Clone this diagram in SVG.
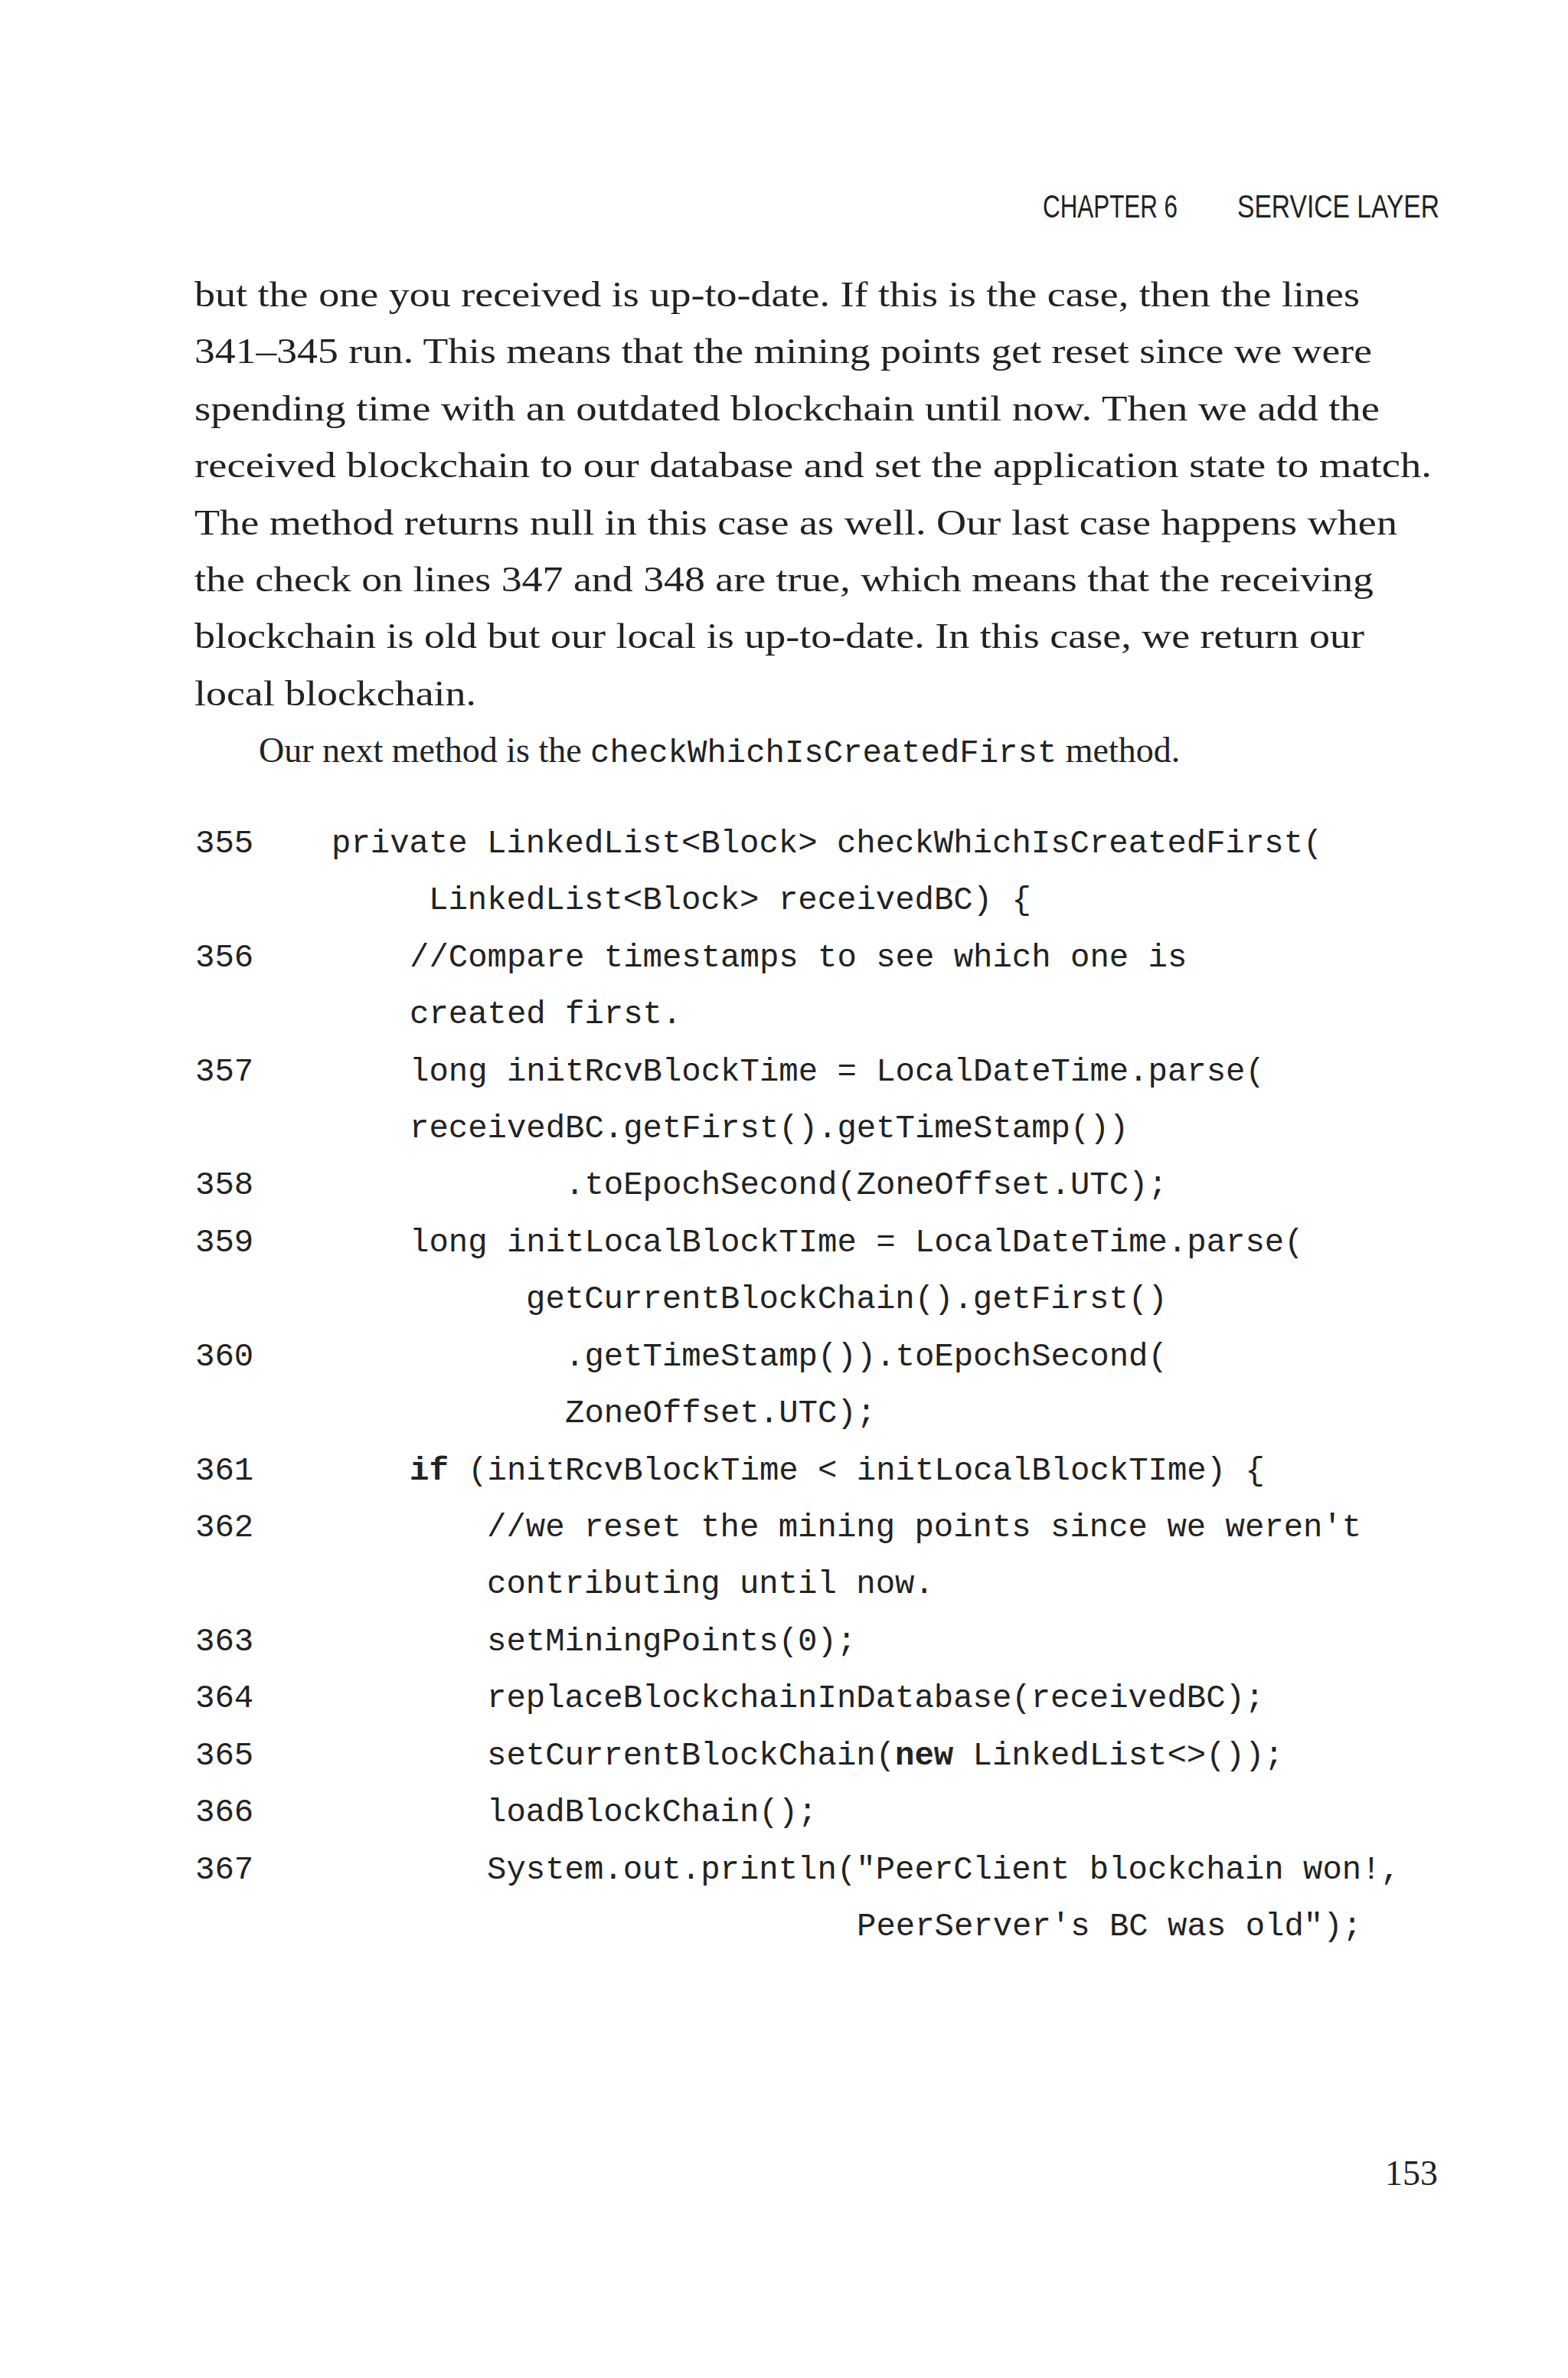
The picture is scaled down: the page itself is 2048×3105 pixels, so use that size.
<svg xmlns="http://www.w3.org/2000/svg" width="2048" height="3105" viewBox="0 0 2048 3105">
<style>
.h{font-family:"Liberation Sans Narrow","Liberation Sans",sans-serif;font-size:42px;fill:#222}
.b{font-family:"Liberation Serif",serif;font-size:46px;fill:#222}
.c{font-family:"Liberation Mono",monospace;font-size:42.3px;fill:#222}
.k{font-weight:bold}
</style>
<rect width="2048" height="3105" fill="#fff"/>
<g id="header">
<text class="h" x="1362" y="284" textLength="176" lengthAdjust="spacingAndGlyphs">CHAPTER 6</text>
<text class="h" x="1880" y="284" text-anchor="end" textLength="264" lengthAdjust="spacingAndGlyphs">SERVICE LAYER</text>
</g>
<g id="body">
<text class="b" x="254" y="400" textLength="1522" lengthAdjust="spacingAndGlyphs">but the one you received is up-to-date. If this is the case, then the lines</text>
<text class="b" x="254" y="474" textLength="1538" lengthAdjust="spacingAndGlyphs">341–345 run. This means that the mining points get reset since we were</text>
<text class="b" x="254" y="549" textLength="1548" lengthAdjust="spacingAndGlyphs">spending time with an outdated blockchain until now. Then we add the</text>
<text class="b" x="254" y="623" textLength="1616" lengthAdjust="spacingAndGlyphs">received blockchain to our database and set the application state to match.</text>
<text class="b" x="254" y="698" textLength="1571" lengthAdjust="spacingAndGlyphs">The method returns null in this case as well. Our last case happens when</text>
<text class="b" x="254" y="772" textLength="1540" lengthAdjust="spacingAndGlyphs">the check on lines 347 and 348 are true, which means that the receiving</text>
<text class="b" x="254" y="846" textLength="1528" lengthAdjust="spacingAndGlyphs">blockchain is old but our local is up-to-date. In this case, we return our</text>
<text class="b" x="254" y="921" textLength="368" lengthAdjust="spacingAndGlyphs">local blockchain.</text>
<text class="b" x="338" y="995">Our next method is the <tspan class="c">checkWhichIsCreatedFirst</tspan> method.</text>
</g>
<g id="code" class="c">
<text x="255" y="1113">355</text><text x="433" y="1113">private LinkedList&lt;Block&gt; checkWhichIsCreatedFirst(</text>
<text x="560" y="1187">LinkedList&lt;Block&gt; receivedBC) {</text>
<text x="255" y="1262">356</text><text x="535" y="1262">//Compare timestamps to see which one is</text>
<text x="535" y="1336">created first.</text>
<text x="255" y="1411">357</text><text x="535" y="1411">long initRcvBlockTime = LocalDateTime.parse(</text>
<text x="535" y="1485">receivedBC.getFirst().getTimeStamp())</text>
<text x="255" y="1559">358</text><text x="738" y="1559">.toEpochSecond(ZoneOffset.UTC);</text>
<text x="255" y="1634">359</text><text x="535" y="1634">long initLocalBlockTIme = LocalDateTime.parse(</text>
<text x="687" y="1708">getCurrentBlockChain().getFirst()</text>
<text x="255" y="1783">360</text><text x="738" y="1783">.getTimeStamp()).toEpochSecond(</text>
<text x="738" y="1857">ZoneOffset.UTC);</text>
<text x="255" y="1932">361</text><text x="535" y="1932"><tspan class="k">if</tspan> (initRcvBlockTime &lt; initLocalBlockTIme) {</text>
<text x="255" y="2006">362</text><text x="636" y="2006">//we reset the mining points since we weren't</text>
<text x="636" y="2080">contributing until now.</text>
<text x="255" y="2155">363</text><text x="636" y="2155">setMiningPoints(0);</text>
<text x="255" y="2229">364</text><text x="636" y="2229">replaceBlockchainInDatabase(receivedBC);</text>
<text x="255" y="2304">365</text><text x="636" y="2304">setCurrentBlockChain(<tspan class="k">new</tspan> LinkedList&lt;&gt;());</text>
<text x="255" y="2378">366</text><text x="636" y="2378">loadBlockChain();</text>
<text x="255" y="2453">367</text><text x="636" y="2453">System.out.println("PeerClient blockchain won!,</text>
<text x="1119" y="2527">PeerServer's BC was old");</text>
</g>
<g id="footer"><text class="b" x="1878" y="2853" text-anchor="end">153</text></g>
</svg>
